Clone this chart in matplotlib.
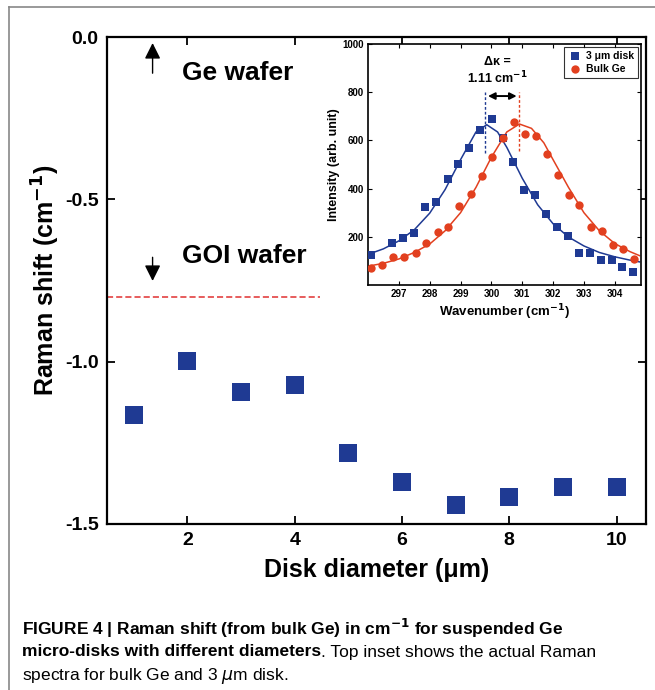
import matplotlib
matplotlib.use("Agg")
import matplotlib.pyplot as plt
from matplotlib.lines import Line2D

plt.rcParams['font.family'] = ['Liberation Sans', 'DejaVu Sans']

# ---------------- main data ----------------
diameters = [1, 2, 3, 4, 5, 6, 7, 8, 9, 10]
raman_shift = [-1.163, -0.997, -1.092, -1.071, -1.28, -1.372, -1.44, -1.418, -1.385, -1.385]
goi_level = -0.8
x_ticks = [2, 4, 6, 8, 10]
y_ticks = [0.0, -0.5, -1.0, -1.5]
y_ticklabels = ["0.0", "-0.5", "-1.0", "-1.5"]

# ---------------- inset data ----------------
disk_wn = [296.11, 296.79, 297.15, 297.50, 297.86, 298.21, 298.58, 298.92, 299.28, 299.63,
           300.01, 300.38, 300.70, 301.07, 301.40, 301.76, 302.12, 302.48, 302.83, 303.19,
           303.55, 303.90, 304.25, 304.59]
disk_int = [124, 175, 197, 214, 325, 346, 439, 503, 569, 643,
            690, 610, 510, 395, 373, 295, 239, 203, 133, 131,
            103, 103, 75, 54]
bulk_wn = [296.11, 296.47, 296.82, 297.18, 297.54, 297.89, 298.26, 298.60, 298.96, 299.33,
           299.68, 300.03, 300.38, 300.73, 301.09, 301.43, 301.80, 302.15, 302.51, 302.85,
           303.22, 303.57, 303.93, 304.27, 304.62]
bulk_int = [72, 82, 117, 117, 133, 175, 221, 239, 328, 377,
            451, 530, 610, 676, 627, 620, 545, 458, 374, 332,
            239, 225, 168, 151, 106]
disk_fit_wn = [296.0, 296.5, 297.0, 297.5, 298.0, 298.5, 299.0, 299.5, 299.85, 300.2,
               300.5, 301.0, 301.5, 302.0, 302.5, 303.0, 303.5, 304.0, 304.5, 304.8]
disk_fit_int = [127, 150, 183, 229, 298, 396, 520, 635, 665, 635,
                571, 443, 333, 254, 199, 162, 135, 117, 103, 96]
bulk_fit_wn = [296.0, 296.5, 297.0, 297.5, 298.0, 298.5, 299.0, 299.5, 300.0, 300.5,
               300.91, 301.3, 301.7, 302.0, 302.5, 303.0, 303.5, 304.0, 304.5, 304.8]
bulk_fit_int = [78, 90, 108, 135, 170, 225, 300, 405, 530, 635,
                668, 650, 590, 520, 405, 300, 225, 172, 138, 122]
disk_peak = 299.80
bulk_peak = 300.91
inset_xticks = [297, 298, 299, 300, 301, 302, 303, 304]
inset_yticks = [200, 400, 600, 800, 1000]

BLUE = "#1f3a93"
RED = "#e2401f"

fig = plt.figure(figsize=(6.55, 6.9), dpi=100)

# outer frame lines (top and left)
fig.add_artist(Line2D([9/655, 1.0], [1 - 7/690, 1 - 7/690], color="#888888", lw=1.2))
fig.add_artist(Line2D([9/655, 9/655], [0.0, 1 - 7/690], color="#888888", lw=1.2))

# ---------------- main axes ----------------
ax = fig.add_axes([107/655, 1 - 524/690, (646 - 107)/655, (524 - 37)/690])
ax.scatter(diameters, raman_shift, marker='s', s=150, color=BLUE, zorder=3, linewidths=0)
ax.plot([0.5, 4.47], [goi_level, goi_level], color="#e03030", ls=(0, (4, 2)), lw=1.1)
ax.set_xlim(0.5, 10.55)
ax.set_ylim(-1.5, 0.0)
ax.set_xticks(x_ticks)
ax.set_yticks(y_ticks)
ax.set_yticklabels(y_ticklabels)
ax.tick_params(direction='in', top=True, right=True, length=6, width=1.3,
               labelsize=14, pad=6)
for lbl in ax.get_xticklabels() + ax.get_yticklabels():
    lbl.set_fontweight('bold')
for sp in ax.spines.values():
    sp.set_linewidth(1.6)
ax.set_xlabel("Disk diameter (μm)", fontsize=18, fontweight='bold', labelpad=6)
ax.set_ylabel("Raman shift (cm$^{\\mathbf{-1}}$)", fontsize=18, fontweight='bold', labelpad=2)

# annotations
ax.annotate("", xy=(1.35, -0.01), xytext=(1.35, -0.12),
            arrowprops=dict(arrowstyle="-|>", color="black", lw=1.0, mutation_scale=24))
ax.text(1.9, -0.11, "Ge wafer", fontsize=19, fontweight='bold', va='center', ha='left')
ax.annotate("", xy=(1.35, -0.76), xytext=(1.35, -0.67),
            arrowprops=dict(arrowstyle="-|>", color="black", lw=1.0, mutation_scale=24))
ax.text(1.9, -0.675, "GOI wafer", fontsize=19, fontweight='bold', va='center', ha='left')

# ---------------- inset ----------------
ins = fig.add_axes([368/655, 1 - 285/690, (641 - 368)/655, (285 - 44)/690])
ins.plot(disk_fit_wn, disk_fit_int, color=BLUE, lw=1.1, zorder=2)
ins.plot(bulk_fit_wn, bulk_fit_int, color=RED, lw=1.1, zorder=2)
ins.scatter(disk_wn, disk_int, marker='s', s=30, color=BLUE, linewidths=0, zorder=3,
            label="3 μm disk")
ins.scatter(bulk_wn, bulk_int, marker='o', s=36, color=RED, linewidths=0, zorder=3,
            label="Bulk Ge")
ins.plot([disk_peak, disk_peak], [548, 800], color=BLUE, ls=(0, (2, 1.5)), lw=1.0)
ins.plot([bulk_peak, bulk_peak], [555, 800], color=RED, ls=(0, (2, 1.5)), lw=1.0)
ins.annotate("", xy=(disk_peak, 784), xytext=(bulk_peak, 784),
             arrowprops=dict(arrowstyle="<|-|>", color="black", lw=1.4, mutation_scale=10))
ins.text((disk_peak + bulk_peak) / 2 - 0.15, 925, "Δκ =", fontsize=9, fontweight='bold',
         ha='center', va='center')
ins.text((disk_peak + bulk_peak) / 2 - 0.15, 860, "1.11 cm$^{\\mathbf{-1}}$", fontsize=9,
         fontweight='bold', ha='center', va='center')
ins.set_xlim(296.0, 304.85)
ins.set_ylim(0, 1000)
ins.set_xticks(inset_xticks)
ins.set_yticks(inset_yticks)
ins.tick_params(direction='in', top=True, right=True, length=3, width=0.8,
                labelsize=7, pad=3)
for lbl in ins.get_xticklabels() + ins.get_yticklabels():
    lbl.set_fontweight('bold')
for sp in ins.spines.values():
    sp.set_linewidth(1.2)
ins.set_xlabel("Wavenumber (cm$^{\\mathbf{-1}}$)", fontsize=9.5, fontweight='bold', labelpad=2)
ins.set_ylabel("Intensity (arb. unit)", fontsize=9, fontweight='bold', labelpad=2)
leg = ins.legend(loc='upper right', fontsize=7.5, frameon=True, fancybox=False,
                 edgecolor='black', handletextpad=0.4, borderpad=0.35, labelspacing=0.3,
                 handlelength=1.4, borderaxespad=0.3)
leg.get_frame().set_linewidth(0.8)
for t in leg.get_texts():
    t.set_fontweight('bold')

# ---------------- caption ----------------
cap_x = 22 / 655
fig.text(cap_x, 1 - 628/690, "FIGURE 4 | Raman shift (from bulk Ge) in cm$^{\\mathbf{-1}}$ for suspended Ge",
         fontsize=12.5, fontweight='bold', va='center', ha='left')
bold_part = fig.text(cap_x, 1 - 652/690, "micro-disks with different diameters", fontsize=12.5,
                     fontweight='bold', va='center', ha='left')
fig.text(cap_x, 1 - 676/690, "spectra for bulk Ge and 3 $\\mu$m disk.", fontsize=12.5,
         va='center', ha='left')

fig.canvas.draw()
r = fig.canvas.get_renderer()
bb = bold_part.get_window_extent(r)
fig.text(bb.x1 / fig.bbox.width, 1 - 652/690, ". Top inset shows the actual Raman",
         fontsize=12.5, va='center', ha='left')

fig.savefig("out.png", dpi=100)
